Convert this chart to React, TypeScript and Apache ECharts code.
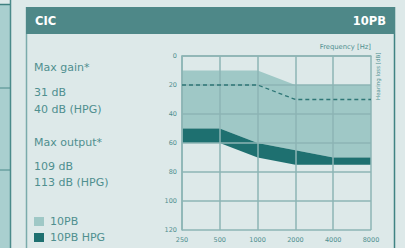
import React, { useEffect, useRef } from "react";
import * as echarts from "echarts";

const frequencies = ["250", "500", "1000", "2000", "4000", "8000"];
const yTicks = [0, 20, 40, 60, 80, 100, 120];
const fitTop = [10, 10, 10, 20, 20, 20];
const hpgTop = [50, 50, 60, 65, 70, 70];
const hpgBottom = [60, 60, 70, 75, 75, 75];
const dashedLine = [20, 20, 20, 30, 30, 30];
const infoLines = [
  { text: "Max gain*", y: 67 },
  { text: "31 dB", y: 92 },
  { text: "40 dB (HPG)", y: 109 },
  { text: "Max output*", y: 142 },
  { text: "109 dB", y: 166 },
  { text: "113 dB (HPG)", y: 182 },
];
const legendItems = ["10PB", "10PB HPG"];

const BG = "#dde9e9";
const LIGHT = "#9fc8c6";
const DARK = "#1e7070";
const HEADER = "#4e8888";
const TXT = "#4f8f8f";
const GRIDC = "#8db4b4";
const FONT = "'DejaVu Sans', sans-serif";

export default function App() {
  const ref = useRef<HTMLDivElement>(null);
  useEffect(() => {
    document.body.style.margin = "0";
    const chart = echarts.init(ref.current!, null, { renderer: "svg" });
    const lightData = hpgTop.map((v, i) => v - fitTop[i]);
    const darkData = hpgBottom.map((v, i) => v - hpgTop[i]);
    const graphic: any[] = [
      { type: "rect", shape: { x: 0, y: 4, width: 10, height: 244 }, style: { fill: "#a9cfcf" }, z: 0 },
      { type: "line", shape: { x1: 10.5, y1: 0, x2: 10.5, y2: 248 }, style: { stroke: "#4a8a8a", lineWidth: 1.5 } },
      { type: "line", shape: { x1: 0, y1: 4.5, x2: 10, y2: 4.5 }, style: { stroke: "#3f8080", lineWidth: 1.5 } },
      { type: "line", shape: { x1: 0, y1: 88, x2: 10, y2: 88 }, style: { stroke: "#4a8a8a", lineWidth: 1 } },
      { type: "line", shape: { x1: 0, y1: 170, x2: 10, y2: 170 }, style: { stroke: "#4a8a8a", lineWidth: 1 } },
      { type: "line", shape: { x1: 26.5, y1: 7, x2: 26.5, y2: 248 }, style: { stroke: "#7aabab", lineWidth: 1.5 } },
      { type: "line", shape: { x1: 394.5, y1: 7, x2: 394.5, y2: 248 }, style: { stroke: "#3f8383", lineWidth: 1.5 } },
      { type: "rect", shape: { x: 26, y: 7, width: 369, height: 27 }, style: { fill: HEADER } },
      { type: "text", x: 35, y: 21, style: { text: "CIC", fill: "#ffffff", font: `bold 11.5px ${FONT}`, textVerticalAlign: "middle" } },
      { type: "text", x: 386, y: 21, style: { text: "10PB", fill: "#ffffff", font: `bold 11.5px ${FONT}`, textAlign: "right", textVerticalAlign: "middle" } },
      { type: "text", x: 371, y: 47, style: { text: "Frequency [Hz]", fill: TXT, font: `6.8px ${FONT}`, textAlign: "right", textVerticalAlign: "middle" } },
      { type: "text", x: 378, y: 100, rotation: Math.PI / 2, style: { text: "Hearing loss [dB]", fill: TXT, font: `5.5px ${FONT}`, textAlign: "left", textVerticalAlign: "middle" } },
    ];
    infoLines.forEach((l) => {
      graphic.push({ type: "text", x: 34, y: l.y, style: { text: l.text, fill: TXT, font: `11px ${FONT}`, textVerticalAlign: "middle" } });
    });
    legendItems.forEach((name, i) => {
      const y = 217 + i * 16;
      graphic.push({ type: "rect", shape: { x: 34, y, width: 10, height: 9 }, style: { fill: i === 0 ? LIGHT : DARK } });
      graphic.push({ type: "text", x: 50, y: y + 4.5, style: { text: name, fill: TXT, font: `11px ${FONT}`, textVerticalAlign: "middle" } });
    });
    chart.setOption({
      animation: false,
      backgroundColor: BG,
      textStyle: { fontFamily: FONT },
      grid: { left: 182, right: 34, top: 56, bottom: 18, containLabel: false },
      xAxis: {
        type: "category",
        data: frequencies,
        boundaryGap: false,
        z: 5,
        axisLine: { show: true, lineStyle: { color: GRIDC, width: 1.5 } },
        axisTick: { show: false },
        axisLabel: { color: TXT, fontSize: 6.5, margin: 6 },
        splitLine: { show: true, lineStyle: { color: GRIDC, width: 1.5 } },
      },
      yAxis: {
        type: "value",
        inverse: true,
        min: yTicks[0],
        max: yTicks[yTicks.length - 1],
        interval: 20,
        z: 5,
        axisLine: { show: true, lineStyle: { color: GRIDC, width: 1.5 } },
        axisTick: { show: false },
        axisLabel: { color: TXT, fontSize: 6.5, margin: 5 },
        splitLine: { show: true, lineStyle: { color: GRIDC, width: 1.5 } },
      },
      series: [
        { type: "line", stack: "a", data: fitTop, symbol: "none", lineStyle: { width: 0 }, areaStyle: { opacity: 0 }, z: 1 },
        { name: "10PB", type: "line", stack: "a", data: lightData, symbol: "none", lineStyle: { width: 0 }, areaStyle: { color: LIGHT, opacity: 1 }, z: 1 },
        { name: "10PB HPG", type: "line", stack: "a", data: darkData, symbol: "none", lineStyle: { width: 0 }, areaStyle: { color: DARK, opacity: 1 }, z: 1 },
        { type: "line", data: dashedLine, symbol: "none", lineStyle: { color: "#2e7676", width: 1.3, type: [4, 3] }, z: 6 },
      ],
      graphic,
    });
    return () => chart.dispose();
  }, []);
  return <div ref={ref} style={{ width: 405, height: 248 }} />;
}
